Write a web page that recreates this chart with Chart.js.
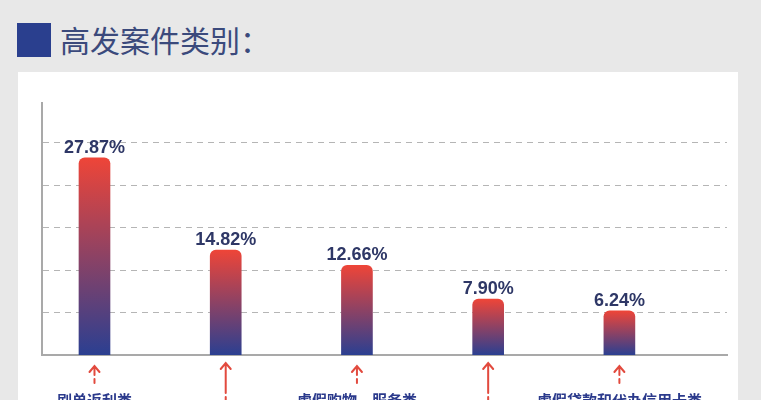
<!DOCTYPE html>
<html>
<head>
<meta charset="utf-8">
<script src="https://cdn.jsdelivr.net/npm/chart.js@4"></script>
<style>
    html, body { margin: 0; padding: 0; }
    body { width: 761px; height: 400px; overflow: hidden; position: relative; background: #e8e8e8; }
    .panel { position: absolute; left: 18px; top: 72px; width: 720px; height: 340px; background: #ffffff; }
    .mark { position: absolute; left: 17px; top: 23px; width: 34px; height: 34px; background: #2a3f8e; }
    .title { position: absolute; left: 60px; top: 24px; font: 30px/30px "Noto Sans CJK SC", sans-serif; color: #3b4a7c; }
    .wrap { position: absolute; left: 0; top: 0; width: 761px; height: 440px; }
</style>
</head>
<body>
<div class="panel"></div>
<div class="mark"></div>
<div class="title">高发案件类别：</div>
<div class="wrap"><canvas id="caseChart"></canvas></div>
<script>
var categories = ['刷单返利类', '虚假投资理财类', '虚假购物、服务类', '冒充电商物流客服类', '虚假贷款和代办信用卡类'];
var shares = [27.87, 14.82, 12.66, 7.90, 6.24];
var valueLabels = ['27.87%', '14.82%', '12.66%', '7.90%', '6.24%'];
var yTicks = [6, 12, 18, 24, 30];

var red = '#ee4538';
var blue = '#2b3f91';
var arrowColor = '#e24a3e';

function barGradient(context) {
    var chart = context.chart;
    if (!chart.chartArea || context.type !== 'data') {
        return red;
    }
    var yScale = chart.scales.y;
    var top = yScale.getPixelForValue(context.parsed.y);
    var base = yScale.getPixelForValue(0);
    var g = chart.ctx.createLinearGradient(0, top, 0, base);
    g.addColorStop(0, red);
    g.addColorStop(1, blue);
    return g;
}

var annotatePlugin = {
    id: 'annotate',
    afterDatasetsDraw: function (chart) {
        var ctx = chart.ctx;
        var meta = chart.getDatasetMeta(0);
        var axisY = chart.scales.y.bottom;
        ctx.save();
        meta.data.forEach(function (bar, i) {
            ctx.textAlign = 'center';
            ctx.textBaseline = 'alphabetic';
            ctx.fillStyle = '#2e3766';
            ctx.font = 'bold 18px "Liberation Sans", Arial, sans-serif';
            ctx.fillText(valueLabels[i], bar.x, bar.y - 5);

            var longArrow = i % 2 === 1;
            var tip = axisY + (longArrow ? 8 : 11);
            var shaftEnd = tip + (longArrow ? 30 : 9);
            ctx.strokeStyle = arrowColor;
            ctx.lineWidth = 2;
            ctx.lineCap = 'round';
            ctx.beginPath();
            ctx.moveTo(bar.x - 5, tip + 6);
            ctx.lineTo(bar.x, tip);
            ctx.lineTo(bar.x + 5, tip + 6);
            ctx.moveTo(bar.x, tip);
            ctx.lineTo(bar.x, shaftEnd);
            ctx.moveTo(bar.x, shaftEnd + 4);
            ctx.lineTo(bar.x, shaftEnd + 8);
            ctx.stroke();

            ctx.fillStyle = '#2b3a8c';
            ctx.font = 'bold 15px "Noto Sans CJK SC", sans-serif';
            ctx.fillText(categories[i], bar.x, shaftEnd + 31);
        });
        ctx.restore();
    }
};

var ctx = document.getElementById('caseChart').getContext('2d');
var chartInstance = new Chart(ctx, {
    type: 'bar',
    data: {
        datasets: [{
            data: shares.map(function (v, i) { return { x: i, y: v }; }),
            backgroundColor: barGradient,
            borderRadius: { topLeft: 6, topRight: 6 },
            borderSkipped: 'start',
            barThickness: 31
        }]
    },
    plugins: [annotatePlugin],
    options: {
        responsive: true,
        maintainAspectRatio: false,
        animation: false,
        layout: { padding: { left: 42, top: 103, right: 34, bottom: 85 } },
        plugins: {
            legend: { display: false },
            tooltip: { enabled: false }
        },
        scales: {
            x: {
                type: 'linear',
                offset: false,
                min: -0.4,
                max: 4.82,
                ticks: { display: false },
                grid: { display: false, drawTicks: false, offset: false },
                border: { display: true, color: '#a9a9a9', width: 2 }
            },
            y: {
                min: 0,
                max: 35.6,
                afterBuildTicks: function (scale) {
                    scale.ticks = yTicks.map(function (v) { return { value: v }; });
                },
                ticks: { display: false },
                grid: { color: '#b5b5b5', lineWidth: 1, drawTicks: false },
                border: { display: true, color: '#a9a9a9', width: 2, dash: [6, 5] }
            }
        }
    }
});
</script>
</body>
</html>
